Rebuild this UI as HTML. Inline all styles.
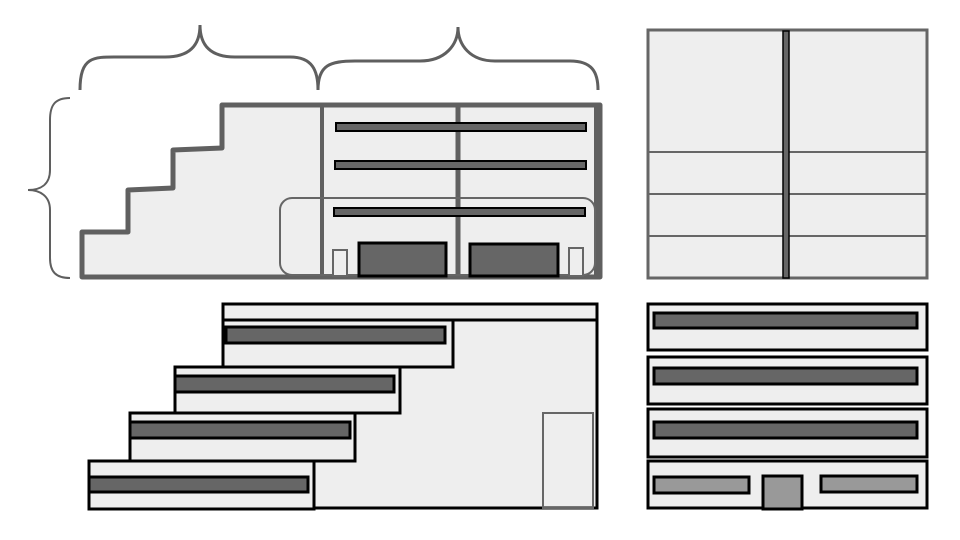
<!DOCTYPE html>
<html><head><style>html,body{margin:0;padding:0;background:#fff;}svg{display:block}</style></head><body>
<svg width="960" height="540" viewBox="0 0 960 540" xmlns="http://www.w3.org/2000/svg">
<g fill="none" stroke="#5f5f5f" stroke-width="3">
<path d="M80,90 C80,55 95,57 120,57 L165,57 C190,57 200,45 200,25 C200,45 210,57 235,57 L290,57 C312,57 318,70 318,90"/>
<path d="M318,90 C318,65 330,61 355,61 L420,61 C445,61 458,45 458,27 C458,45 470,61 495,61 L570,61 C592,61 598,72 598,90"/>
</g>
<path d="M70,98 C55,98 50,105 50,120 L50,170 C50,185 40,190 28,190 C40,190 50,196 50,210 L50,258 C50,272 56,278 70,278" fill="none" stroke="#5f5f5f" stroke-width="2"/>
<polygon points="82,232 128,232 128,190 173,188 173,150 222,148 222,105 600,105 600,277 82,277" fill="#eeeeee" stroke="#606060" stroke-width="5" stroke-linejoin="round"/>
<line x1="322" y1="105" x2="322" y2="277" stroke="#606060" stroke-width="4"/>
<line x1="458" y1="105" x2="458" y2="277" stroke="#606060" stroke-width="5"/>
<line x1="597" y1="105" x2="597" y2="277" stroke="#606060" stroke-width="6"/>
<g fill="#666" stroke="#000" stroke-width="2">
<rect x="336" y="123" width="250" height="8"/>
<rect x="335" y="161" width="251" height="8"/>
<rect x="334" y="208" width="251" height="8"/>
</g>
<rect x="280" y="198" width="315" height="77" rx="12" fill="none" stroke="#666" stroke-width="2"/>
<g fill="#eee" stroke="#666" stroke-width="2">
<rect x="333" y="250" width="14" height="26"/>
<rect x="569" y="248" width="14" height="28"/>
</g>
<g fill="#666" stroke="#000" stroke-width="3">
<rect x="359" y="243" width="87" height="33"/>
<rect x="470" y="244" width="88" height="32"/>
</g>
<rect x="648" y="30" width="279" height="248" fill="#eee" stroke="#666" stroke-width="3"/>
<g stroke="#666" stroke-width="2">
<line x1="648" y1="152" x2="927" y2="152"/>
<line x1="648" y1="194" x2="927" y2="194"/>
<line x1="648" y1="236" x2="927" y2="236"/>
</g>
<rect x="783" y="31" width="6" height="247" fill="#666" stroke="#000" stroke-width="1.5"/>
<g stroke="#000" stroke-width="3">
<rect x="223" y="304" width="374" height="204" fill="#eee"/>
<line x1="223" y1="320" x2="597" y2="320"/>
<rect x="223" y="320" width="230" height="47" fill="#eee"/>
<rect x="175" y="367" width="225" height="46" fill="#eee"/>
<rect x="130" y="413" width="225" height="48" fill="#eee"/>
<rect x="89" y="461" width="225" height="48" fill="#eee"/>
<rect x="226" y="327" width="219" height="16" fill="#666"/>
<rect x="175" y="376" width="219" height="16" fill="#666"/>
<rect x="130" y="422" width="220" height="16" fill="#666"/>
<rect x="89" y="477" width="219" height="15" fill="#666"/>
</g>
<rect x="543" y="413" width="50" height="95" fill="none" stroke="#666" stroke-width="2"/>
<g stroke="#000" stroke-width="3">
<rect x="648" y="304" width="279" height="46" fill="#eee"/>
<rect x="648" y="357" width="279" height="47" fill="#eee"/>
<rect x="648" y="409" width="279" height="48" fill="#eee"/>
<rect x="648" y="461" width="279" height="47" fill="#eee"/>
<rect x="654" y="313" width="263" height="15" fill="#666"/>
<rect x="654" y="368" width="263" height="16" fill="#666"/>
<rect x="654" y="422" width="263" height="16" fill="#666"/>
<rect x="654" y="477" width="95" height="16" fill="#999"/>
<rect x="763" y="476" width="39" height="33" fill="#999"/>
<rect x="821" y="476" width="96" height="16" fill="#999"/>
</g>
</svg>
</body></html>
